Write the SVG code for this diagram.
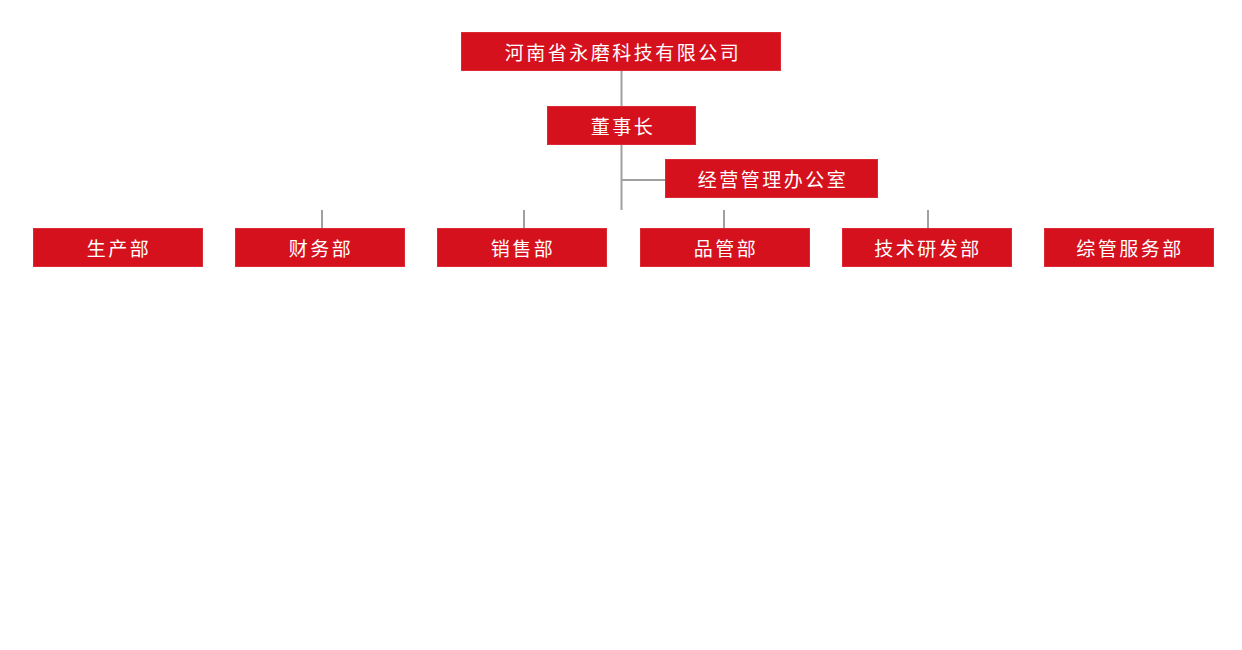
<svg xmlns="http://www.w3.org/2000/svg" width="1242" height="650" viewBox="0 0 1242 650">
<style>
.box{fill:#d6111e;stroke:#dc2a35;stroke-width:1}
.t{fill:#fff;font-family:"Noto Sans CJK SC","Noto Sans",sans-serif;font-size:19px;letter-spacing:2.5px;text-anchor:middle;dominant-baseline:central}
.c{stroke:#a0a0a0;stroke-width:2;fill:none}
</style>
<rect width="1242" height="650" fill="#fff"/>
<g id="connectors">
<line class="c" x1="621.5" y1="71" x2="621.5" y2="106"/>
<line class="c" x1="621.5" y1="145" x2="621.5" y2="210"/>
<line class="c" x1="621.5" y1="180" x2="665" y2="180"/>
<line class="c" x1="322" y1="210" x2="322" y2="228"/>
<line class="c" x1="524" y1="210" x2="524" y2="228"/>
<line class="c" x1="724" y1="210" x2="724" y2="228"/>
<line class="c" x1="928" y1="210" x2="928" y2="228"/>
</g>
<g id="company"><rect class="box" x="461.5" y="32.5" width="319" height="38"/><text class="t" x="623" y="51">河南省永磨科技有限公司</text></g>
<g id="chairman"><rect class="box" x="547.5" y="106.5" width="148" height="38"/><text class="t" x="623" y="125">董事长</text></g>
<g id="office"><rect class="box" x="665.5" y="159.5" width="212" height="38"/><text class="t" x="773" y="178">经营管理办公室</text></g>
<g id="production"><rect class="box" x="33.5" y="228.5" width="169" height="38"/><text class="t" x="119" y="247">生产部</text></g>
<g id="finance"><rect class="box" x="235.5" y="228.5" width="169" height="38"/><text class="t" x="321" y="247">财务部</text></g>
<g id="sales"><rect class="box" x="437.5" y="228.5" width="169" height="38"/><text class="t" x="523" y="247">销售部</text></g>
<g id="quality"><rect class="box" x="640.5" y="228.5" width="169" height="38"/><text class="t" x="726" y="247">品管部</text></g>
<g id="rnd"><rect class="box" x="842.5" y="228.5" width="169" height="38"/><text class="t" x="928" y="247">技术研发部</text></g>
<g id="admin"><rect class="box" x="1044.5" y="228.5" width="169" height="38"/><text class="t" x="1130" y="247">综管服务部</text></g>
</svg>
